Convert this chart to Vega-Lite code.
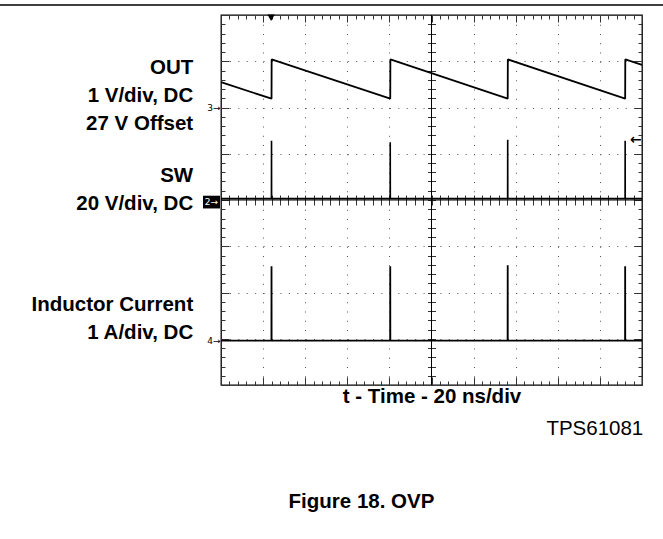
{
  "$schema": "https://vega.github.io/schema/vega-lite/v6.json",
  "width": 421,
  "height": 370,
  "autosize": {"type": "none"},
  "padding": {"left": 221, "top": 15, "right": 21, "bottom": 154},
  "background": "white",
  "config": {
    "view": {"stroke": "black", "strokeWidth": 1.3},
    "font": "Liberation Sans",
    "axis": {"labels": false, "domain": false, "tickColor": "#333", "tickWidth": 1}
  },
  "datasets": {
    "out": [
      {"t": 0, "v": 6.55}, {"t": 1.2, "v": 6.19}, {"t": 1.203, "v": 7.04},
      {"t": 4.02, "v": 6.19}, {"t": 4.023, "v": 7.04},
      {"t": 6.81, "v": 6.19}, {"t": 6.813, "v": 7.04},
      {"t": 9.6, "v": 6.19}, {"t": 9.603, "v": 7.04}, {"t": 10, "v": 6.92}
    ],
    "sw": [
      {"t": 0, "v": 4.03}, {"t": 1.198, "v": 4.03}, {"t": 1.2, "v": 5.28}, {"t": 1.202, "v": 4.03},
      {"t": 4.018, "v": 4.03}, {"t": 4.02, "v": 5.25}, {"t": 4.022, "v": 4.03},
      {"t": 6.808, "v": 4.03}, {"t": 6.81, "v": 5.3}, {"t": 6.812, "v": 4.03},
      {"t": 9.598, "v": 4.03}, {"t": 9.6, "v": 5.28}, {"t": 9.602, "v": 4.03}, {"t": 10, "v": 4.03}
    ],
    "ind": [
      {"t": 0, "v": 0.96}, {"t": 1.198, "v": 0.96}, {"t": 1.2, "v": 2.57}, {"t": 1.202, "v": 0.96},
      {"t": 4.018, "v": 0.96}, {"t": 4.02, "v": 2.57}, {"t": 4.022, "v": 0.96},
      {"t": 6.808, "v": 0.96}, {"t": 6.81, "v": 2.59}, {"t": 6.812, "v": 0.96},
      {"t": 9.598, "v": 0.96}, {"t": 9.6, "v": 2.57}, {"t": 9.602, "v": 0.96}, {"t": 10, "v": 0.96}
    ],
    "leftLabels": [
      {"label": "OUT", "x": -0.66, "y": 6.854},
      {"label": "1 V/div, DC", "x": -0.66, "y": 6.249},
      {"label": "27 V Offset", "x": -0.66, "y": 5.648},
      {"label": "SW", "x": -0.66, "y": 4.512},
      {"label": "20 V/div, DC", "x": -0.66, "y": 3.918},
      {"label": "Inductor Current", "x": -0.66, "y": 1.719},
      {"label": "1 A/div, DC", "x": -0.66, "y": 1.124}
    ],
    "part": [{"label": "TPS61081", "x": 10.03, "y": -0.957}],
    "caption": [{"label": "Figure 18. OVP", "x": 3.337, "y": -2.523}],
    "markers": [
      {"label": "3→", "x": -0.01, "y": 6.0},
      {"label": "4→", "x": -0.01, "y": 0.958}
    ],
    "box": [{"label": "2→", "x": -0.226, "y": 3.955}],
    "trigger": [{"x": 1.19, "y": 7.94}],
    "level": [{"label": "←", "x": 9.857, "y": 5.297}],
    "page": [{"x": -5.25, "x2": 10.5, "y": 8.216}],
    "cross": [{"t": 5, "v": 4}]
  },
  "resolve": {"axis": {"x": "independent", "y": "independent"}},
  "layer": [
    {
      "data": {"name": "cross"},
      "mark": {"type": "rule", "color": "black", "strokeWidth": 1},
      "encoding": {
        "x": {"field": "t", "type": "quantitative", "scale": {"domain": [0, 10], "nice": false, "zero": false}, "axis": null}
      }
    },
    {
      "data": {"name": "cross"},
      "mark": {"type": "rule", "color": "black", "strokeWidth": 1},
      "encoding": {
        "y": {"field": "v", "type": "quantitative", "scale": {"domain": [0, 8], "nice": false, "zero": false}, "axis": null}
      }
    },
    {
      "data": {"name": "out"},
      "mark": {"type": "line", "color": "black", "strokeWidth": 1.8, "strokeJoin": "bevel"},
      "encoding": {
        "x": {"field": "t", "type": "quantitative", "scale": {"domain": [0, 10], "nice": false, "zero": false},
          "axis": {
            "orient": "bottom",
            "values": [0,0.2,0.4,0.6,0.8,1,1.2,1.4,1.6,1.8,2,2.2,2.4,2.6,2.8,3,3.2,3.4,3.6,3.8,4,4.2,4.4,4.6,4.8,5,5.2,5.4,5.6,5.8,6,6.2,6.4,6.6,6.8,7,7.2,7.4,7.6,7.8,8,8.2,8.4,8.6,8.8,9,9.2,9.4,9.6,9.8,10],
            "tickSize": {"condition": {"test": "datum.value % 1 === 0", "value": -8}, "value": -4},
            "grid": true,
            "gridColor": "#555",
            "gridWidth": 1,
            "gridDash": [1, 8.25],
            "gridOpacity": {"condition": {"test": "datum.value % 1 === 0 && datum.value > 0 && datum.value < 10 && datum.value !== 5", "value": 1}, "value": 0},
            "title": "t - Time - 20 ns/div",
            "titleFontSize": 20.5,
            "titleFontWeight": "bold",
            "titleColor": "black",
            "titleFont": "Liberation Sans",
            "titlePadding": 1
          }
        },
        "y": {"field": "v", "type": "quantitative", "scale": {"domain": [0, 8], "nice": false, "zero": false},
          "axis": {
            "orient": "left",
            "values": [0,0.2,0.4,0.6,0.8,1,1.2,1.4,1.6,1.8,2,2.2,2.4,2.6,2.8,3,3.2,3.4,3.6,3.8,4,4.2,4.4,4.6,4.8,5,5.2,5.4,5.6,5.8,6,6.2,6.4,6.6,6.8,7,7.2,7.4,7.6,7.8,8],
            "tickSize": {"condition": {"test": "datum.value % 1 === 0", "value": -8}, "value": -4},
            "grid": true,
            "gridColor": "#555",
            "gridWidth": 1,
            "gridDash": [1, 7.42],
            "gridOpacity": {"condition": {"test": "datum.value % 1 === 0 && datum.value > 0 && datum.value < 8 && datum.value !== 4", "value": 1}, "value": 0},
            "title": null
          }
        }
      }
    },
    {
      "data": {"name": "sw"},
      "mark": {"type": "line", "color": "black", "strokeWidth": 1.6, "strokeJoin": "bevel"},
      "encoding": {
        "x": {"field": "t", "type": "quantitative", "scale": {"domain": [0, 10], "nice": false, "zero": false},
          "axis": {
            "orient": "top",
            "values": [0,0.2,0.4,0.6,0.8,1,1.2,1.4,1.6,1.8,2,2.2,2.4,2.6,2.8,3,3.2,3.4,3.6,3.8,4,4.2,4.4,4.6,4.8,5,5.2,5.4,5.6,5.8,6,6.2,6.4,6.6,6.8,7,7.2,7.4,7.6,7.8,8,8.2,8.4,8.6,8.8,9,9.2,9.4,9.6,9.8,10],
            "tickSize": {"condition": {"test": "datum.value % 1 === 0", "value": -7}, "value": -4},
            "grid": false,
            "title": null
          }
        },
        "y": {"field": "v", "type": "quantitative", "scale": {"domain": [0, 8], "nice": false, "zero": false},
          "axis": {
            "orient": "right",
            "values": [0,0.2,0.4,0.6,0.8,1,1.2,1.4,1.6,1.8,2,2.2,2.4,2.6,2.8,3,3.2,3.4,3.6,3.8,4,4.2,4.4,4.6,4.8,5,5.2,5.4,5.6,5.8,6,6.2,6.4,6.6,6.8,7,7.2,7.4,7.6,7.8,8],
            "tickSize": {"condition": {"test": "datum.value % 1 === 0", "value": -8}, "value": -4},
            "grid": false,
            "title": null
          }
        }
      }
    },
    {
      "data": {"name": "ind"},
      "mark": {"type": "line", "color": "black", "strokeWidth": 1.8, "strokeJoin": "bevel"},
      "encoding": {
        "x": {"field": "t", "type": "quantitative", "scale": {"domain": [0, 10], "nice": false, "zero": false},
          "axis": {
            "orient": "bottom",
            "offset": -180,
            "values": [0.2,0.4,0.6,0.8,1,1.2,1.4,1.6,1.8,2,2.2,2.4,2.6,2.8,3,3.2,3.4,3.6,3.8,4,4.2,4.4,4.6,4.8,5,5.2,5.4,5.6,5.8,6,6.2,6.4,6.6,6.8,7,7.2,7.4,7.6,7.8,8,8.2,8.4,8.6,8.8,9,9.2,9.4,9.6,9.8],
            "tickSize": -10,
            "grid": false,
            "title": null
          }
        },
        "y": {"field": "v", "type": "quantitative", "scale": {"domain": [0, 8], "nice": false, "zero": false},
          "axis": {
            "orient": "left",
            "offset": -214.5,
            "values": [0.2,0.4,0.6,0.8,1,1.2,1.4,1.6,1.8,2,2.2,2.4,2.6,2.8,3,3.2,3.4,3.6,3.8,4,4.2,4.4,4.6,4.8,5,5.2,5.4,5.6,5.8,6,6.2,6.4,6.6,6.8,7,7.2,7.4,7.6,7.8],
            "tickSize": 8,
            "grid": false,
            "title": null
          }
        }
      }
    },
    {
      "data": {"name": "page"},
      "mark": {"type": "rule", "color": "black", "strokeWidth": 1.4},
      "encoding": {
        "x": {"field": "x", "type": "quantitative", "axis": null},
        "x2": {"field": "x2"},
        "y": {"field": "y", "type": "quantitative", "axis": null}
      }
    },
    {
      "data": {"name": "leftLabels"},
      "mark": {"type": "text", "align": "right", "baseline": "middle", "fontSize": 20.5, "fontWeight": "bold", "font": "Liberation Sans", "color": "black"},
      "encoding": {
        "x": {"field": "x", "type": "quantitative", "axis": null},
        "y": {"field": "y", "type": "quantitative", "axis": null},
        "text": {"field": "label"}
      }
    },
    {
      "data": {"name": "part"},
      "mark": {"type": "text", "align": "right", "baseline": "middle", "fontSize": 20.5, "font": "Liberation Sans", "color": "black"},
      "encoding": {
        "x": {"field": "x", "type": "quantitative", "axis": null},
        "y": {"field": "y", "type": "quantitative", "axis": null},
        "text": {"field": "label"}
      }
    },
    {
      "data": {"name": "caption"},
      "mark": {"type": "text", "align": "center", "baseline": "middle", "fontSize": 20.5, "fontWeight": "bold", "font": "Liberation Sans", "color": "black"},
      "encoding": {
        "x": {"field": "x", "type": "quantitative", "axis": null},
        "y": {"field": "y", "type": "quantitative", "axis": null},
        "text": {"field": "label"}
      }
    },
    {
      "data": {"name": "markers"},
      "mark": {"type": "text", "align": "right", "baseline": "middle", "fontSize": 9, "font": "DejaVu Sans", "color": "black"},
      "encoding": {
        "x": {"field": "x", "type": "quantitative", "axis": null},
        "y": {"field": "y", "type": "quantitative", "axis": null},
        "text": {"field": "label"}
      }
    },
    {
      "data": {"name": "box"},
      "mark": {"type": "point", "shape": "M-1,-0.75H1V0.75H-1Z", "filled": true, "color": "black", "opacity": 1, "size": 289},
      "encoding": {
        "x": {"field": "x", "type": "quantitative", "axis": null},
        "y": {"field": "y", "type": "quantitative", "axis": null}
      }
    },
    {
      "data": {"name": "box"},
      "mark": {"type": "text", "align": "center", "baseline": "middle", "fontSize": 9, "font": "DejaVu Sans", "color": "white"},
      "encoding": {
        "x": {"field": "x", "type": "quantitative", "axis": null},
        "y": {"field": "y", "type": "quantitative", "axis": null},
        "text": {"field": "label"}
      }
    },
    {
      "data": {"name": "trigger"},
      "mark": {"type": "point", "shape": "triangle-down", "filled": true, "color": "black", "opacity": 1, "size": 55},
      "encoding": {
        "x": {"field": "x", "type": "quantitative", "axis": null},
        "y": {"field": "y", "type": "quantitative", "axis": null}
      }
    },
    {
      "data": {"name": "level"},
      "mark": {"type": "text", "align": "center", "baseline": "middle", "fontSize": 14, "fontWeight": "bold", "font": "DejaVu Sans", "color": "black"},
      "encoding": {
        "x": {"field": "x", "type": "quantitative", "axis": null},
        "y": {"field": "y", "type": "quantitative", "axis": null},
        "text": {"field": "label"}
      }
    }
  ]
}
